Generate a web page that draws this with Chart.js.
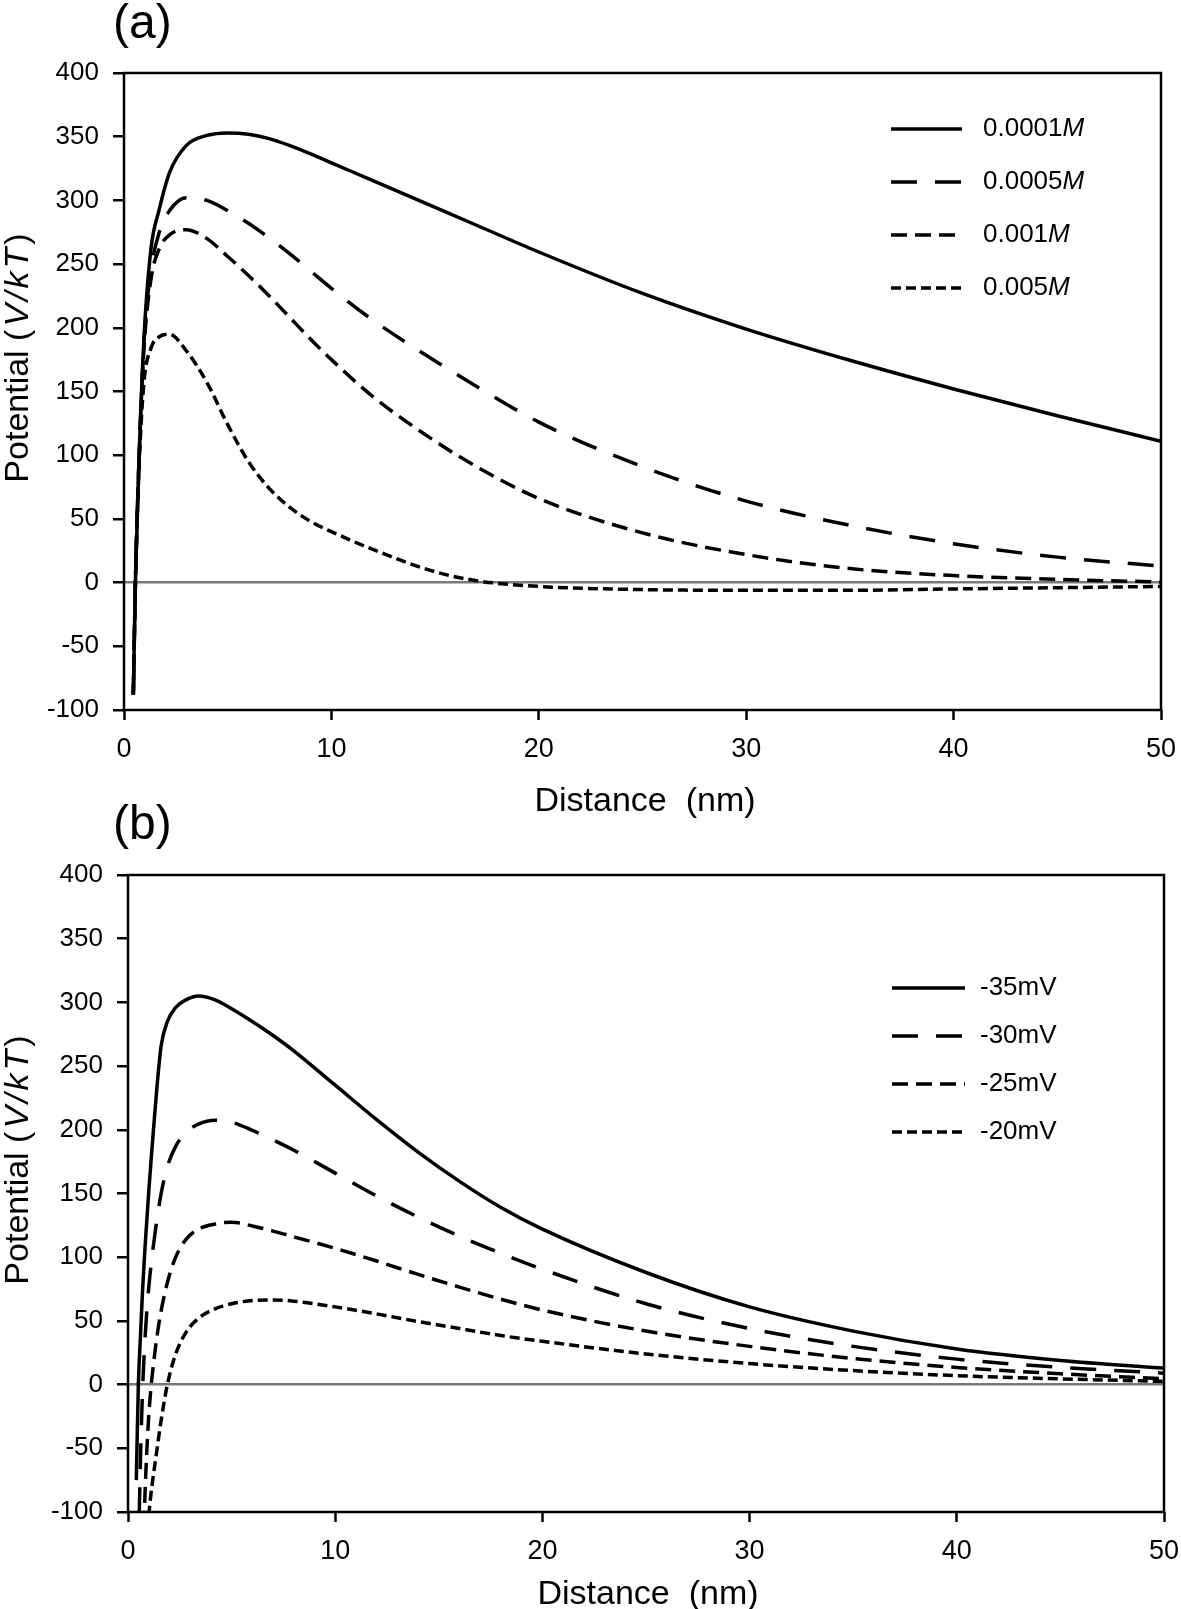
<!DOCTYPE html>
<html>
<head>
<meta charset="utf-8">
<title>Interaction potential vs distance</title>
<script src="https://cdn.jsdelivr.net/npm/chart.js@4.4.1/dist/chart.umd.min.js"></script>
<style>
    html, body { margin: 0; padding: 0; background: #fff; }
    body { width: 1181px; height: 1609px; position: relative; overflow: hidden; }
    .panel { position: absolute; left: 0; }
</style>
</head>
<body>
<div class="panel" style="top:0"><canvas id="chartA" width="1181" height="830"></canvas></div>
<div class="panel" style="top:802px"><canvas id="chartB" width="1181" height="807"></canvas></div>
<script>
// ---- data ----
// (a) ionic strength series
const distA = [0.45, 0.55, 0.7, 0.95, 1.3, 1.7, 2.2, 3, 4, 5, 6, 7, 8, 9, 10, 12, 15, 17, 20, 25, 30, 35, 40, 45, 50];
const labelsA = ['0.0001M', '0.0005M', '0.001M', '0.005M'];
const potA_0001 = [-88, 0, 85, 188, 262, 293, 322, 343, 351, 353, 352, 348.5, 343, 336.5, 329.5, 315.5, 294.5, 280.5, 259.5, 227, 199, 174.5, 152, 131, 111];
const potA_0005 = [-88, 0, 85, 185, 245, 275, 292, 302, 300, 292, 282, 270.5, 258, 244.5, 231, 206, 174, 154, 126, 91, 64, 45, 30.5, 20, 13];
const potA_001 = [-88, 0, 85, 180, 238, 262, 273, 277, 270, 256, 241, 225, 208, 191, 175, 146, 111, 91, 66, 39, 22, 11, 5.5, 2.5, 0.5];
const potA_005 = [-88, 0, 80, 155, 184, 193, 195, 182, 157, 124, 95, 74, 59, 48, 40, 26, 8.5, 1.5, -3, -5.5, -6, -6, -5, -4, -3];

// (b) zeta potential series
const distB = [0.4, 0.5, 0.6, 0.7, 0.8, 0.9, 1.0, 1.1, 1.2, 1.4, 1.6, 1.9, 2.3, 2.8, 3.4, 4.2, 5, 6, 7, 8, 10, 12, 14, 16, 18, 20, 25, 30, 35, 40, 45, 50];
const labelsB = ['-35mV', '-30mV', '-25mV', '-20mV'];
const potB_35 = [-75, 0, 38, 73, 102, 127, 151, 173, 194, 234, 266, 285, 296, 302, 305, 302, 295, 285, 274, 262, 235, 208, 182.5, 159.5, 139, 122, 88, 61, 42, 28, 19, 13];
const potB_30 = [-170, -130, -60, -5, 30, 56, 76, 92, 106, 130, 150, 171, 187, 198, 204.5, 207.5, 206, 199.5, 192, 184, 166, 148, 131.5, 116.5, 103, 90.5, 63.5, 44, 30, 20, 13.5, 9];
const potB_25 = [-300, -250, -200, -150, -95, -55, -25, -4, 12, 38, 58, 80, 100, 114, 122, 126, 127.5, 124.5, 120.5, 116, 107, 97, 86.5, 76.5, 67, 58.5, 42, 30, 20.5, 13.5, 8.5, 4.5];
const potB_20 = [-350, -300, -260, -220, -180, -140, -105, -87, -74, -51, -28, 0, 24, 41, 52, 59.5, 63.5, 66, 66.5, 65.5, 61, 55.5, 49.5, 44, 38.5, 34, 24, 16.5, 11, 7, 4.5, 2.5];

// axes
const xMin = 0, xMax = 50, xStep = 10;
const yMin = -100, yMax = 400, yStep = 50;

const dashes = [[], [26, 18], [16, 8], [10, 5]];
const FONT = '"Liberation Sans", Arial, Helvetica, sans-serif';

function toPoints(xs, ys) {
    return xs.map((x, i) => ({ x: x, y: ys[i] }));
}

function makeDatasets(xs, seriesList, labels) {
    return seriesList.map((ys, i) => ({
        label: labels[i],
        data: toPoints(xs, ys),
        borderColor: '#000',
        borderWidth: 3.5,
        borderDash: dashes[i],
        borderCapStyle: 'butt',
        cubicInterpolationMode: 'monotone',
        pointRadius: 0,
        fill: false
    }));
}

// draw a run of text pieces, some italic
function drawParts(ctx, parts, x, y, size, align) {
    let total = 0;
    parts.forEach(p => {
        ctx.font = (p.it ? 'italic ' : '') + size + 'px ' + FONT;
        ctx.letterSpacing = (p.sp || 0) + 'px';
        p.w = ctx.measureText(p.t).width;
        total += p.w;
    });
    let cx = align === 'center' ? x - total / 2 : x;
    parts.forEach(p => {
        ctx.font = (p.it ? 'italic ' : '') + size + 'px ' + FONT;
        ctx.letterSpacing = (p.sp || 0) + 'px';
        ctx.fillText(p.t, cx, y);
        cx += p.w;
    });
    ctx.letterSpacing = '0px';
}

function labelParts(label) {
    if (label.endsWith('M')) return [{ t: label.slice(0, -1) }, { t: 'M', it: true }];
    return [{ t: label }];
}

const panelDecor = {
    id: 'panelDecor',
    afterDatasetsDraw(chart, args, opts) {
        const ctx = chart.ctx;
        const a = chart.chartArea;
        ctx.save();
        ctx.strokeStyle = '#000';
        ctx.fillStyle = '#000';
        ctx.setLineDash([]);
        ctx.lineWidth = 2.5;
        ctx.strokeRect(a.left, a.top, a.right - a.left, a.bottom - a.top);

        // legend
        ctx.textAlign = 'left';
        ctx.textBaseline = 'middle';
        chart.data.datasets.forEach((ds, i) => {
            const y = opts.legendY + i * opts.legendGap;
            ctx.beginPath();
            ctx.lineWidth = ds.borderWidth;
            ctx.lineCap = 'butt';
            ctx.setLineDash(ds.borderDash);
            ctx.moveTo(opts.legendX, y);
            ctx.lineTo(opts.legendX + opts.sampleLen, y);
            ctx.stroke();
            ctx.setLineDash([]);
            drawParts(ctx, labelParts(ds.label), opts.textX, y, opts.legendSize, 'left');
        });

        // panel letter
        ctx.textBaseline = 'alphabetic';
        drawParts(ctx, [{ t: opts.tag }], 113, opts.tagY, 48, 'left');

        // x title
        drawParts(ctx, [{ t: 'Distance  (nm)' }], opts.xTitleX, opts.xTitleY, 34, 'center');

        // y title
        ctx.save();
        ctx.translate(28, opts.yTitleY);
        ctx.rotate(-Math.PI / 2);
        drawParts(ctx, [{ t: 'Potential ' }, { t: '(', sp: 3 }, { t: 'V/kT', it: true, sp: 3 }, { t: ')' }], 0, 0, 34, 'center');
        ctx.restore();
        ctx.restore();
    }
};

function makeOptions(yAxisWidth, rightPad, bottomPad, decor) {
    return {
        responsive: false,
        animation: false,
        layout: { padding: { left: 0, right: rightPad, top: 73, bottom: bottomPad } },
        plugins: {
            legend: { display: false },
            tooltip: { enabled: false },
            panelDecor: decor
        },
        scales: {
            x: {
                type: 'linear',
                min: xMin,
                max: xMax,
                afterFit: s => { s.height = 92; s.paddingLeft = 0; s.paddingRight = 0; },
                border: { display: false },
                grid: { drawOnChartArea: false, drawTicks: true, tickLength: 10, tickColor: '#000', tickWidth: 2.5 },
                ticks: { stepSize: xStep, color: '#000', font: { family: FONT, size: 27 }, padding: 13, maxRotation: 0 }
            },
            y: {
                type: 'linear',
                min: yMin,
                max: yMax,
                afterFit: s => { s.width = yAxisWidth; s.paddingTop = 0; s.paddingBottom = 0; },
                border: { display: false },
                grid: {
                    drawOnChartArea: true,
                    color: c => (c.tick && c.tick.value === 0) ? '#7a7a7a' : 'rgba(0,0,0,0)',
                    lineWidth: 2.5,
                    tickLength: 11,
                    tickColor: '#000',
                    tickWidth: 2.5
                },
                ticks: { stepSize: yStep, color: '#000', font: { family: FONT, size: 26 }, padding: 14 }
            }
        }
    };
}

document.addEventListener('DOMContentLoaded', () => {
    new Chart(document.getElementById('chartA').getContext('2d'), {
        type: 'line',
        data: { datasets: makeDatasets(distA, [potA_0001, potA_0005, potA_001, potA_005], labelsA) },
        options: makeOptions(124, 20, 28, {
            tag: '(a)', tagY: 38,
            legendX: 891, sampleLen: 71, textX: 983, legendY: 129, legendGap: 53, legendSize: 26,
            xTitleX: 645, xTitleY: 811, yTitleY: 358
        }),
        plugins: [panelDecor]
    });

    new Chart(document.getElementById('chartB').getContext('2d'), {
        type: 'line',
        data: { datasets: makeDatasets(distB, [potB_35, potB_30, potB_25, potB_20], labelsB) },
        options: makeOptions(128, 17, 5, {
            tag: '(b)', tagY: 37,
            legendX: 892, sampleLen: 73, textX: 980, legendY: 186, legendGap: 48, legendSize: 26,
            xTitleX: 648, xTitleY: 802, yTitleY: 358
        }),
        plugins: [panelDecor]
    });
});
</script>
</body>
</html>
